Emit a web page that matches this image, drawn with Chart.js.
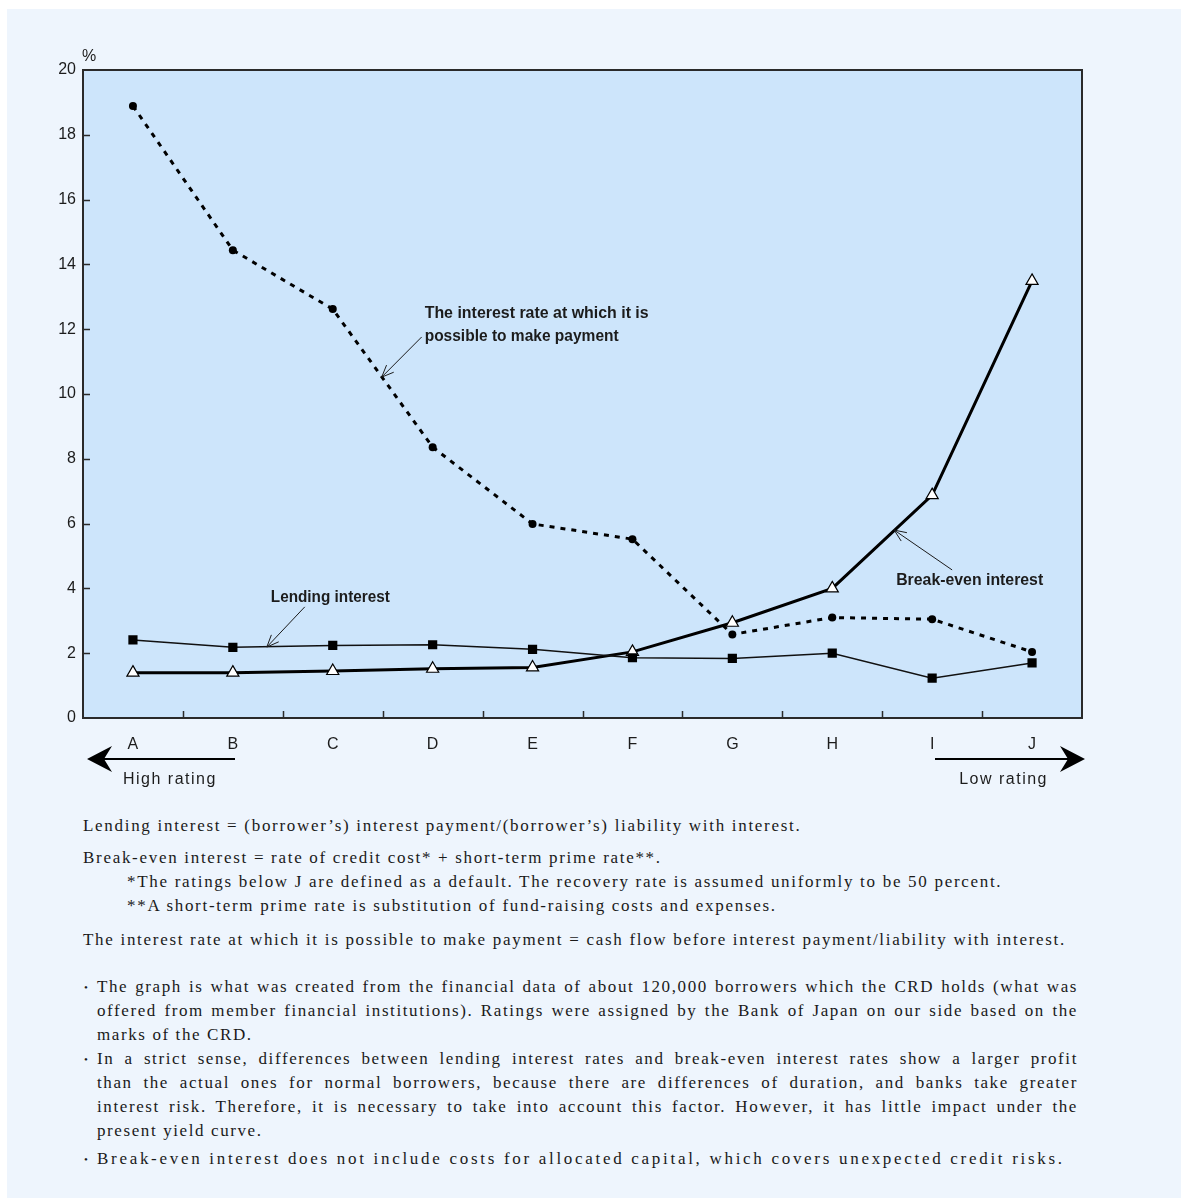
<!DOCTYPE html>
<html>
<head>
<meta charset="utf-8">
<script src="https://cdn.jsdelivr.net/npm/chart.js@4.4.0/dist/chart.umd.min.js"></script>
<style>
  html, body { margin: 0; padding: 0; background: #fff; }
  #panel { position: absolute; left: 7px; top: 9px; width: 1174px; height: 1189px; background: #eef5fd; }
  #wrap { position: absolute; left: 0; top: 0; width: 1181px; height: 800px; }
  .note { position: absolute; left: 83px; width: 995px; font-family: "Liberation Serif", serif; font-size: 17px; letter-spacing: 1.7px; color: #1a1a1a; line-height: 24px; white-space: nowrap; }
  .note.ind { left: 127px; }
  .bul { position: absolute; left: 83px; width: 981px; padding-left: 14px; font-family: "Liberation Serif", serif; font-size: 17px; letter-spacing: 1.6px; color: #1a1a1a; line-height: 24px; }
  .bul::before { content: "\2022"; position: absolute; left: 1px; top: 0; font-size: 11px; letter-spacing: 0; }
  .bul div { white-space: nowrap; }
  .bul .j { text-align: justify; text-align-last: justify; white-space: normal; }
</style>
</head>
<body>
<div id="panel"></div>
<div id="wrap"><canvas id="rateChart" width="1181" height="800"></canvas></div>

<div class="note" style="top:814px">Lending interest = (borrower’s) interest payment/(borrower’s) liability with interest.</div>
<div class="note" style="top:846px">Break-even interest = rate of credit cost* + short-term prime rate**.</div>
<div class="note ind" style="top:870px">*The ratings below J are defined as a default. The recovery rate is assumed uniformly to be 50 percent.</div>
<div class="note ind" style="top:894px">**A short-term prime rate is substitution of fund-raising costs and expenses.</div>
<div class="note" style="top:928px">The interest rate at which it is possible to make payment = cash flow before interest payment/liability with interest.</div>

<div class="bul" style="top:975px">
  <div class="j">The graph is what was created from the financial data of about 120,000 borrowers which the CRD holds (what was</div>
  <div class="j">offered from member financial institutions). Ratings were assigned by the Bank of Japan on our side based on the</div>
  <div>marks of the CRD.</div>
</div>
<div class="bul" style="top:1047px">
  <div class="j">In a strict sense, differences between lending interest rates and break-even interest rates show a larger profit</div>
  <div class="j">than the actual ones for normal borrowers, because there are differences of duration, and banks take greater</div>
  <div class="j">interest risk. Therefore, it is necessary to take into account this factor. However, it has little impact under the</div>
  <div>present yield curve.</div>
</div>
<div class="bul" style="top:1147px">
  <div style="letter-spacing:2.7px">Break-even interest does not include costs for allocated capital, which covers unexpected credit risks.</div>
</div>

<script>
const categories = ['A', 'B', 'C', 'D', 'E', 'F', 'G', 'H', 'I', 'J'];
const lendingInterest = [2.41, 2.18, 2.24, 2.26, 2.12, 1.86, 1.84, 2.00, 1.23, 1.70];
const breakEvenInterest = [1.40, 1.40, 1.45, 1.52, 1.56, 2.04, 2.94, 4.00, 6.88, 13.49];
const payableInterest = [18.89, 14.44, 12.62, 8.36, 5.99, 5.52, 2.58, 3.10, 3.05, 2.04];
const yMin = 0;
const yMax = 20;
const yStep = 2;

// callouts, placed in data units (category index, percent)
const callouts = [
  { lines: ['The interest rate at which it is', 'possible to make payment'], at: [2.92, 12.5], widths: [224, 194], lineGap: 0.71, from: [2.89, 11.76], tip: [2.49, 10.52] },
  { lines: ['Lending interest'], at: [1.38, 3.73], widths: [119], from: [1.72, 3.43], tip: [1.34, 2.19] },
  { lines: ['Break-even interest'], at: [7.64, 4.26], widths: [147], from: [8.2, 4.57], tip: [7.62, 5.80] }
];

const ink = '#1c1c1c';

function arrowHead(ctx, x0, y0, x1, y1) {
  const ang = Math.atan2(y0 - y1, x0 - x1);
  const len = 13;
  ctx.beginPath();
  ctx.moveTo(x1 + len * Math.cos(ang + 0.4), y1 + len * Math.sin(ang + 0.4));
  ctx.lineTo(x1, y1);
  ctx.lineTo(x1 + len * Math.cos(ang - 0.4), y1 + len * Math.sin(ang - 0.4));
  ctx.stroke();
}

function bigArrow(ctx, tipX, y, tailX, dir) {
  ctx.save();
  ctx.strokeStyle = '#000';
  ctx.fillStyle = '#000';
  ctx.lineWidth = 2;
  const notch = tipX - dir * 17;
  ctx.beginPath();
  ctx.moveTo(notch, y);
  ctx.lineTo(tailX, y);
  ctx.stroke();
  ctx.beginPath();
  ctx.moveTo(tipX, y);
  ctx.lineTo(tipX - dir * 25, y - 13);
  ctx.lineTo(notch, y);
  ctx.lineTo(tipX - dir * 25, y + 13);
  ctx.closePath();
  ctx.fill();
  ctx.restore();
}

const decor = {
  id: 'decor',
  beforeDraw(chart) {
    const { ctx, chartArea: a } = chart;
    ctx.save();
    ctx.fillStyle = '#cde5fb';
    ctx.fillRect(a.left, a.top, a.right - a.left, a.bottom - a.top);
    ctx.restore();
  },
  beforeDatasetsDraw(chart) {
    const { ctx, chartArea: a, scales } = chart;
    const xs = scales.x, ys = scales.y;
    ctx.save();
    ctx.strokeStyle = '#2a2a2a';
    ctx.lineWidth = 2;
    ctx.strokeRect(a.left, a.top, a.right - a.left, a.bottom - a.top);
    ctx.lineWidth = 1.5;
    ctx.beginPath();
    ys.ticks.forEach(t => {
      if (t.value <= yMin || t.value >= yMax) return;
      const y = Math.round(ys.getPixelForValue(t.value)) + 0.5;
      ctx.moveTo(a.left, y);
      ctx.lineTo(a.left + 7, y);
    });
    for (let i = 0; i < categories.length - 1; i++) {
      const x = Math.round((xs.getPixelForValue(i) + xs.getPixelForValue(i + 1)) / 2) + 0.5;
      ctx.moveTo(x, a.bottom);
      ctx.lineTo(x, a.bottom - 7);
    }
    ctx.stroke();
    ctx.restore();
  },
  afterDraw(chart) {
    const { ctx, chartArea: a, scales } = chart;
    const xs = scales.x, ys = scales.y;
    const P = (p) => [xs.getPixelForValue(p[0]), ys.getPixelForValue(p[1])];
    ctx.save();

    // axis unit
    ctx.fillStyle = ink;
    ctx.font = '16px "Liberation Sans", Arial, sans-serif';
    ctx.textBaseline = 'middle';
    ctx.textAlign = 'left';
    ctx.fillText('%', a.left - 1, a.top - 13);

    // callouts
    ctx.font = 'bold 17px "Liberation Sans", Arial, sans-serif';
    ctx.textAlign = 'left';
    callouts.forEach(c => {
      const [tx, ty] = P(c.at);
      c.lines.forEach((ln, k) => {
        const yy = ty + k * (ys.getPixelForValue(0) - ys.getPixelForValue(c.lineGap || 0));
        ctx.fillText(ln, tx, yy, c.widths[k]);
      });
      const [x0, y0] = P(c.from);
      const [x1, y1] = P(c.tip);
      ctx.strokeStyle = ink;
      ctx.lineWidth = 1;
      ctx.beginPath();
      ctx.moveTo(x0, y0);
      ctx.lineTo(x1, y1);
      ctx.stroke();
      arrowHead(ctx, x0, y0, x1, y1);
    });

    // rating direction arrows
    const ay = a.bottom + 41;
    bigArrow(ctx, a.left + 4, ay, a.left + 152, -1);
    bigArrow(ctx, a.right + 3, ay, a.right - 147, 1);
    ctx.fillStyle = ink;
    ctx.font = '16px "Liberation Sans", Arial, sans-serif';
    ctx.letterSpacing = '1.5px';
    ctx.textAlign = 'left';
    ctx.fillText('High rating', a.left + 40, a.bottom + 62);
    ctx.textAlign = 'right';
    ctx.fillText('Low rating', a.right - 34, a.bottom + 62);
    ctx.restore();
  }
};

new Chart(document.getElementById('rateChart'), {
  type: 'line',
  data: {
    labels: categories,
    datasets: [
      {
        label: 'The interest rate at which it is possible to make payment',
        data: payableInterest,
        borderColor: '#000',
        borderWidth: 3,
        borderDash: [5, 6],
        pointStyle: 'circle',
        pointRadius: 4,
        pointBackgroundColor: '#000',
        pointBorderColor: '#000',
        pointBorderWidth: 0,
        tension: 0
      },
      {
        label: 'Lending interest',
        data: lendingInterest,
        borderColor: '#111',
        borderWidth: 1.5,
        pointStyle: 'rect',
        pointRadius: 6.5,
        pointBackgroundColor: '#000',
        pointBorderColor: '#000',
        pointBorderWidth: 0,
        tension: 0
      },
      {
        label: 'Break-even interest',
        data: breakEvenInterest,
        borderColor: '#000',
        borderWidth: 3,
        pointStyle: 'triangle',
        pointRadius: 7,
        pointBackgroundColor: '#fff',
        pointBorderColor: '#000',
        pointBorderWidth: 1.2,
        tension: 0
      }
    ]
  },
  options: {
    responsive: false,
    animation: false,
    layout: { padding: { left: 33, top: 70, right: 99, bottom: 42 } },
    plugins: {
      legend: { display: false },
      tooltip: { enabled: false }
    },
    scales: {
      x: {
        offset: true,
        grid: { display: false },
        border: { display: false },
        ticks: { color: ink, padding: 9, font: { family: '"Liberation Sans", Arial, sans-serif', size: 16 } },
        afterFit: (s) => { s.height = 40; }
      },
      y: {
        min: yMin,
        max: yMax,
        grid: { display: false, drawTicks: false },
        border: { display: false },
        ticks: { stepSize: yStep, color: ink, padding: 7, font: { family: '"Liberation Sans", Arial, sans-serif', size: 16 } },
        afterFit: (s) => { s.width = 50; }
      }
    }
  },
  plugins: [decor]
});
</script>
</body>
</html>
